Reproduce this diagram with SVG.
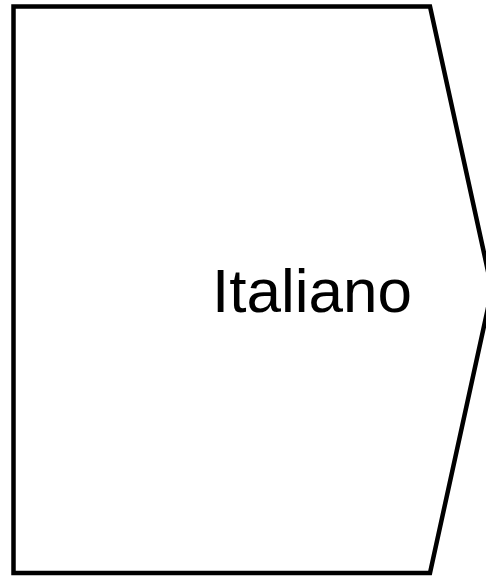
<svg xmlns="http://www.w3.org/2000/svg" width="486" height="577" viewBox="0 0 486 577">
<style>
.shape{fill:#fff;stroke:#000;stroke-width:4.5}
.label{font-family:"Liberation Sans",Arial,sans-serif;font-size:62px;fill:#000}
</style>
<rect width="486" height="577" fill="#fff"/>
<g id="node-italiano">
<path class="shape" d="M13.5,6.5 L430,6.5 L492,289.5 L430,573 L13.5,573 Z"/>
<text class="label" x="312" y="312" text-anchor="middle">Italiano</text>
</g>
<g id="connectors"/>
</svg>
